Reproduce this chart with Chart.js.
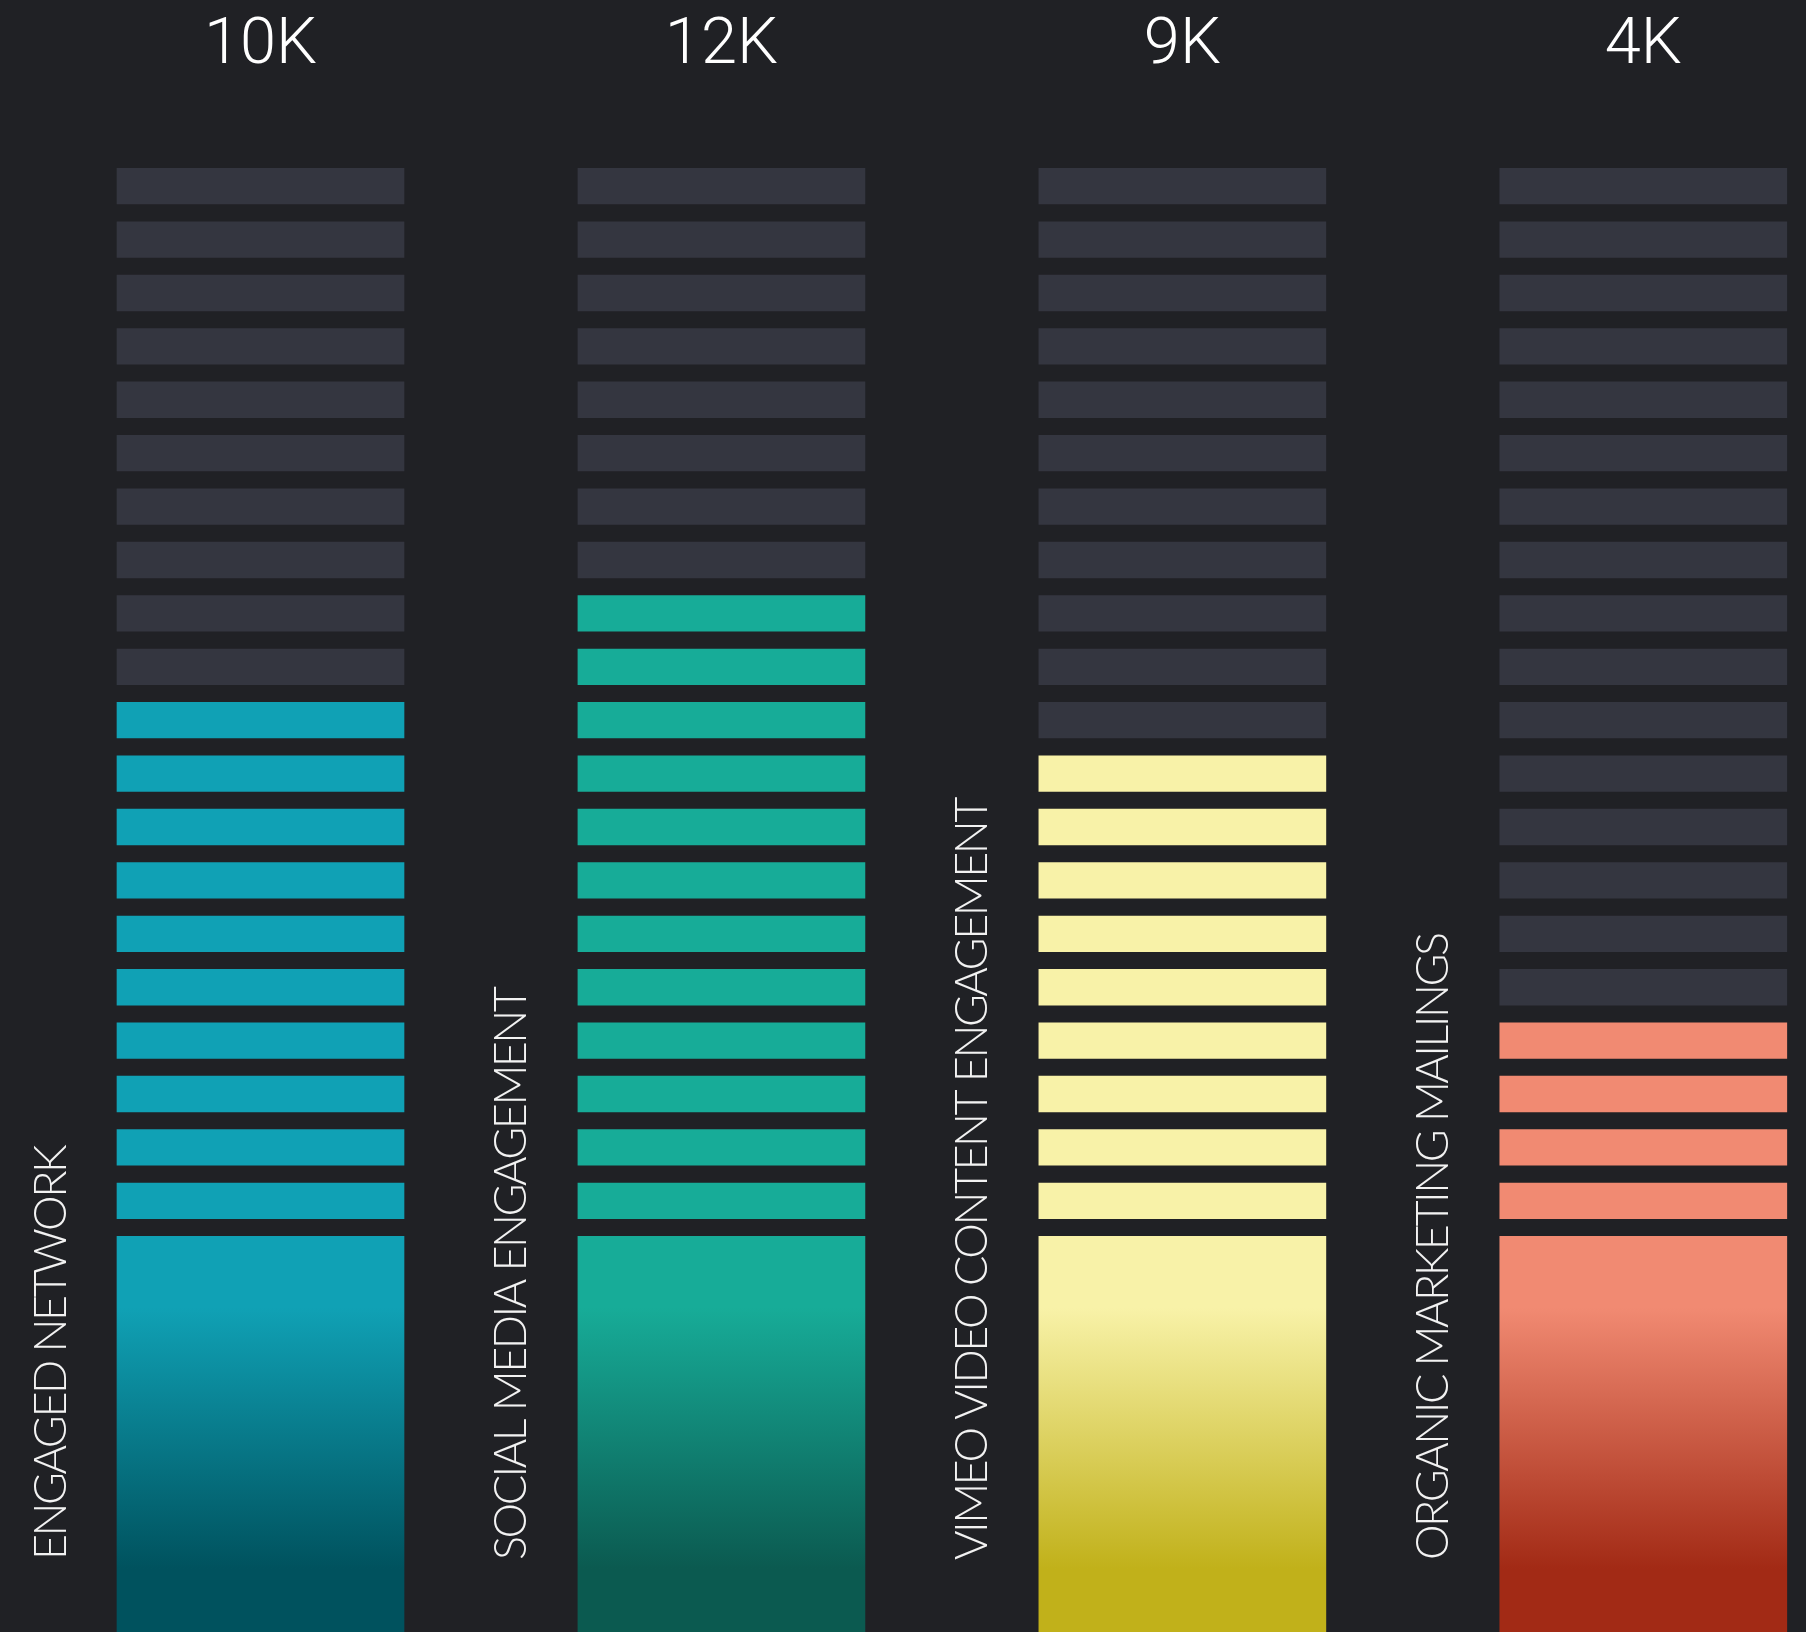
<!DOCTYPE html>
<html>
<head>
<meta charset="utf-8">
<script src="https://cdn.jsdelivr.net/npm/chart.js@4.4.1/dist/chart.umd.min.js"></script>
<style>
  html, body { margin: 0; padding: 0; background: #202125; overflow: hidden; }
  #wrap { width: 1806px; height: 1632px; position: relative; }
</style>
</head>
<body>
<div id="wrap"><canvas id="c" width="1806" height="1632"></canvas></div>
<script>
// ---- data ----
const categories = ['ENGAGED NETWORK', 'SOCIAL MEDIA ENGAGEMENT', 'VIMEO VIDEO CONTENT ENGAGEMENT', 'ORGANIC MARKETING MAILINGS'];
const values = [10, 12, 9, 4];              // thousands
const valueLabels = ['10K', '12K', '9K', '4K'];
const slotCount = 20;                        // 1K per slot

// ---- style ----
const BG = '#202125';
const EMPTY = '#343640';
const topColors = ['#10a1b5', '#17ac98', '#f8f2a8', '#f18a72'];
const bottomColors = ['#00525e', '#0b5a50', '#c1b11a', '#a22a15'];
const SEG_H = 0.668;        // segment height as fraction of slot pitch
const Y_MIN = -7.74, Y_MAX = 22.82;

const datasets = [];
for (let j = 0; j < slotCount; j++) {
  datasets.push({
    label: 'slot ' + (j + 1),
    data: categories.map(() => [j, j + SEG_H]),
    backgroundColor: values.map((v, i) => (j < v ? topColors[i] : EMPTY)),
    grouped: false,
    borderWidth: 0,
    borderSkipped: false
  });
}
datasets.push({
  label: 'base',
  data: categories.map(() => [Y_MIN, SEG_H - 1]),
  backgroundColor: (ctx) => {
    const chart = ctx.chart;
    const area = chart.chartArea;
    const i = ctx.dataIndex;
    if (!area || i === undefined) return topColors[0];
    const y = chart.scales.y;
    const top = y.getPixelForValue(SEG_H - 1);
    const bottom = y.getPixelForValue(Y_MIN);
    const g = chart.ctx.createLinearGradient(0, top, 0, bottom);
    g.addColorStop(0, topColors[i]);
    g.addColorStop(0.18, topColors[i]);
    g.addColorStop(0.84, bottomColors[i]);
    g.addColorStop(1, bottomColors[i]);
    return g;
  },
  grouped: false,
  borderWidth: 0,
  borderSkipped: false
});

const textPlugin = {
  id: 'texts',
  beforeDraw(chart) {
    const c = chart.ctx;
    c.save();
    c.fillStyle = BG;
    c.fillRect(0, 0, chart.width, chart.height);
    c.restore();
  },
  afterDatasetsDraw(chart) {
    const c = chart.ctx;
    const x = chart.scales.x;
    const half = 287 / 2;
    c.save();
    // value labels at top
    c.fillStyle = '#ffffff';
    c.font = '300 65px Roboto, "Liberation Sans", sans-serif';
    c.textAlign = 'center';
    c.textBaseline = 'alphabetic';
    valueLabels.forEach((t, i) => {
      c.fillText(t, x.getPixelForValue(i), 63);
    });
    // rotated category labels
    c.font = '300 45px Lato, "Noto Sans", sans-serif';
    try { c.letterSpacing = '-2.5px'; } catch (e) {}
    c.textAlign = 'left';
    c.textBaseline = 'middle';
    categories.forEach((t, i) => {
      const cx = x.getPixelForValue(i) - half - 66;
      c.save();
      c.translate(cx, 1560);
      c.rotate(-Math.PI / 2);
      c.fillStyle = '#f2f2f2';
      c.fillText(t, 0, 0);
      c.restore();
    });
    c.restore();
  }
};

new Chart(document.getElementById('c'), {
  type: 'bar',
  data: { labels: categories, datasets },
  options: {
    responsive: false,
    animation: false,
    devicePixelRatio: 1,
    layout: { padding: { left: 260.5, right: 162.7, top: 0, bottom: 0 } },
    datasets: { bar: { barThickness: 287 } },
    clip: false,
    plugins: { legend: { display: false }, tooltip: { enabled: false } },
    scales: {
      x: { type: 'category', offset: false, display: false },
      y: { type: 'linear', min: Y_MIN, max: Y_MAX, display: false }
    }
  },
  plugins: [textPlugin]
});
</script>
</body>
</html>
